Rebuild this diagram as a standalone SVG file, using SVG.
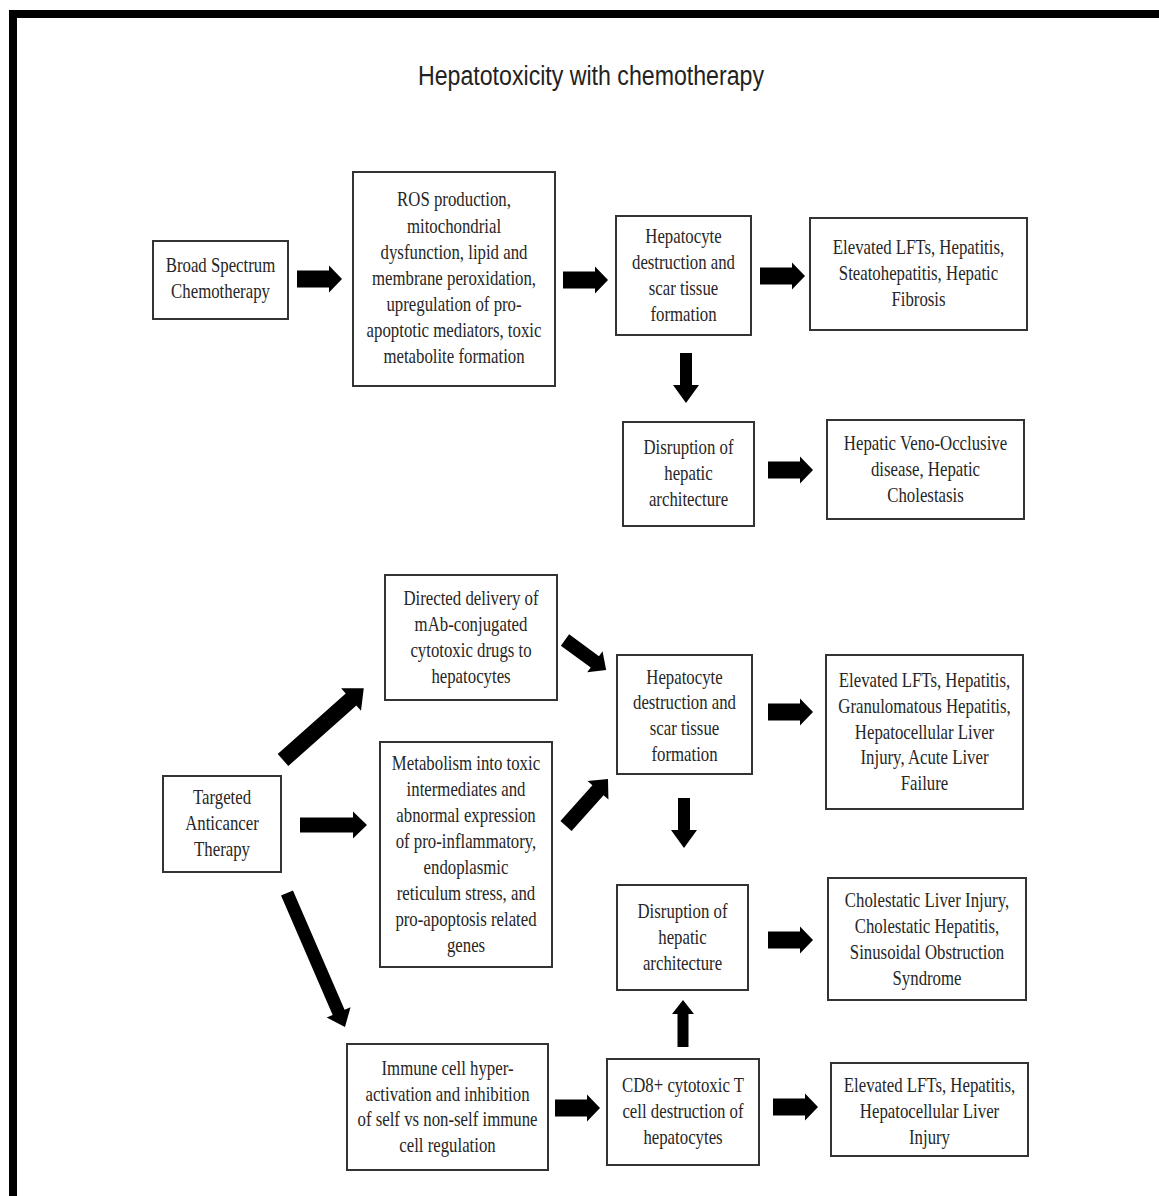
<svg xmlns="http://www.w3.org/2000/svg" xmlns:xlink="http://www.w3.org/1999/xlink" width="1159" height="1196" viewBox="0 0 1159 1196">
<style>
.box{fill:#fff;stroke:#333;stroke-width:2}
.t{font-family:"Liberation Serif","Times New Roman",serif;font-size:20px;fill:#262626;text-anchor:middle}
.title{font-family:"Liberation Sans",Arial,sans-serif;font-size:27px;fill:#222;text-anchor:middle}
.arr{fill:#000}
</style>
<defs>
<path id="ah" d="M0,-8.5 H32 V-13.5 L45,0 L32,13.5 V8.5 H0 Z"/>
<path id="av" d="M0,-6 H32 V-13 L50,0 L32,13 V6 H0 Z"/>
</defs>
<rect x="0" y="0" width="1159" height="1196" fill="#fff"/>
<rect x="9" y="10" width="1150" height="8" fill="#000"/>
<rect x="9" y="10" width="8" height="1186" fill="#000"/>
<text class="title" x="591" y="85" textLength="346" lengthAdjust="spacingAndGlyphs">Hepatotoxicity with chemotherapy</text>

<g id="connectors" class="arr">
<use xlink:href="#ah" transform="translate(297,279)"/>
<use xlink:href="#ah" transform="translate(563,280)"/>
<use xlink:href="#ah" transform="translate(760,276)"/>
<use xlink:href="#ah" transform="translate(768,470)"/>
<use xlink:href="#av" transform="translate(686,353) rotate(90)"/>
<path d="M0,-8 H91 V-15 L108,0 L91,15 V8 H0 Z" transform="translate(283,760) rotate(-41.6)"/>
<path d="M0,-7.5 H53 V-13.5 L67,0 L53,13.5 V7.5 H0 Z" transform="translate(300,825)"/>
<path d="M0,-6.5 H130 V-13 L146,0 L130,13 V6.5 H0 Z" transform="translate(287,893) rotate(66.6)"/>
<path d="M0,-7 H37 V-13 L51,0 L37,13 V7 H0 Z" transform="translate(565,640) rotate(36.2)"/>
<path d="M0,-7.5 H48 V-14 L63,0 L48,14 V7.5 H0 Z" transform="translate(566,826) rotate(-48.2)"/>
<use xlink:href="#ah" transform="translate(768,712)"/>
<use xlink:href="#av" transform="translate(684,798) rotate(90)"/>
<use xlink:href="#ah" transform="translate(768,940)"/>
<use xlink:href="#ah" transform="translate(555,1108)"/>
<path d="M0,-5.5 H33 V-11 L47,0 L33,11 V5.5 H0 Z" transform="translate(683,1047) rotate(-90)"/>
<use xlink:href="#ah" transform="translate(773,1107)"/>
</g>

<g id="n1"><rect class="box" x="153" y="241" width="135" height="78"/>
<g transform="translate(220.5,0) scale(0.84,1)"><text class="t" x="0" y="272">Broad Spectrum</text><text class="t" x="0" y="298">Chemotherapy</text></g></g>

<g id="n2"><rect class="box" x="353" y="172" width="202" height="214"/>
<g transform="translate(454,0) scale(0.84,1)"><text class="t" x="0" y="206">ROS production,</text><text class="t" x="0" y="233">mitochondrial</text><text class="t" x="0" y="259">dysfunction, lipid and</text><text class="t" x="0" y="285">membrane peroxidation,</text><text class="t" x="0" y="311">upregulation of pro-</text><text class="t" x="0" y="337">apoptotic mediators, toxic</text><text class="t" x="0" y="363">metabolite formation</text></g></g>

<g id="n3"><rect class="box" x="616" y="216" width="135" height="119"/>
<g transform="translate(683.5,0) scale(0.84,1)"><text class="t" x="0" y="243">Hepatocyte</text><text class="t" x="0" y="269">destruction and</text><text class="t" x="0" y="295">scar tissue</text><text class="t" x="0" y="321">formation</text></g></g>

<g id="n4"><rect class="box" x="810" y="218" width="217" height="112"/>
<g transform="translate(918.5,0) scale(0.84,1)"><text class="t" x="0" y="254">Elevated LFTs, Hepatitis,</text><text class="t" x="0" y="280">Steatohepatitis, Hepatic</text><text class="t" x="0" y="306">Fibrosis</text></g></g>

<g id="n5"><rect class="box" x="623" y="422" width="131" height="104"/>
<g transform="translate(688.5,0) scale(0.84,1)"><text class="t" x="0" y="454">Disruption of</text><text class="t" x="0" y="480">hepatic</text><text class="t" x="0" y="506">architecture</text></g></g>

<g id="n6"><rect class="box" x="827" y="420" width="197" height="99"/>
<g transform="translate(925.5,0) scale(0.84,1)"><text class="t" x="0" y="450">Hepatic Veno-Occlusive</text><text class="t" x="0" y="476">disease, Hepatic</text><text class="t" x="0" y="502">Cholestasis</text></g></g>

<g id="n7"><rect class="box" x="163" y="776" width="118" height="96"/>
<g transform="translate(222,0) scale(0.84,1)"><text class="t" x="0" y="804">Targeted</text><text class="t" x="0" y="830">Anticancer</text><text class="t" x="0" y="856">Therapy</text></g></g>

<g id="n8"><rect class="box" x="385" y="575" width="172" height="125"/>
<g transform="translate(471,0) scale(0.84,1)"><text class="t" x="0" y="605">Directed delivery of</text><text class="t" x="0" y="631">mAb-conjugated</text><text class="t" x="0" y="657">cytotoxic drugs to</text><text class="t" x="0" y="683">hepatocytes</text></g></g>

<g id="n9"><rect class="box" x="380" y="742" width="172" height="225"/>
<g transform="translate(466,0) scale(0.84,1)"><text class="t" x="0" y="770">Metabolism into toxic</text><text class="t" x="0" y="796">intermediates and</text><text class="t" x="0" y="822">abnormal expression</text><text class="t" x="0" y="848">of pro-inflammatory,</text><text class="t" x="0" y="874">endoplasmic</text><text class="t" x="0" y="900">reticulum stress, and</text><text class="t" x="0" y="926">pro-apoptosis related</text><text class="t" x="0" y="952">genes</text></g></g>

<g id="n10"><rect class="box" x="617" y="655" width="135" height="119"/>
<g transform="translate(684.5,0) scale(0.84,1)"><text class="t" x="0" y="684">Hepatocyte</text><text class="t" x="0" y="709">destruction and</text><text class="t" x="0" y="735">scar tissue</text><text class="t" x="0" y="761">formation</text></g></g>

<g id="n11"><rect class="box" x="826" y="655" width="197" height="154"/>
<g transform="translate(924.5,0) scale(0.84,1)"><text class="t" x="0" y="687">Elevated LFTs, Hepatitis,</text><text class="t" x="0" y="713">Granulomatous Hepatitis,</text><text class="t" x="0" y="739">Hepatocellular Liver</text><text class="t" x="0" y="764">Injury, Acute Liver</text><text class="t" x="0" y="790">Failure</text></g></g>

<g id="n12"><rect class="box" x="617" y="885" width="131" height="105"/>
<g transform="translate(682.5,0) scale(0.84,1)"><text class="t" x="0" y="918">Disruption of</text><text class="t" x="0" y="944">hepatic</text><text class="t" x="0" y="970">architecture</text></g></g>

<g id="n13"><rect class="box" x="828" y="878" width="198" height="122"/>
<g transform="translate(927,0) scale(0.84,1)"><text class="t" x="0" y="907">Cholestatic Liver Injury,</text><text class="t" x="0" y="933">Cholestatic Hepatitis,</text><text class="t" x="0" y="959">Sinusoidal Obstruction</text><text class="t" x="0" y="985">Syndrome</text></g></g>

<g id="n14"><rect class="box" x="347" y="1044" width="201" height="126"/>
<g transform="translate(447.5,0) scale(0.84,1)"><text class="t" x="0" y="1075">Immune cell hyper-</text><text class="t" x="0" y="1101">activation and inhibition</text><text class="t" x="0" y="1126">of self vs non-self immune</text><text class="t" x="0" y="1152">cell regulation</text></g></g>

<g id="n15"><rect class="box" x="607" y="1059" width="152" height="106"/>
<g transform="translate(683,0) scale(0.84,1)"><text class="t" x="0" y="1092">CD8+ cytotoxic T</text><text class="t" x="0" y="1118">cell destruction of</text><text class="t" x="0" y="1144">hepatocytes</text></g></g>

<g id="n16"><rect class="box" x="831" y="1063" width="197" height="93"/>
<g transform="translate(929.5,0) scale(0.84,1)"><text class="t" x="0" y="1092">Elevated LFTs, Hepatitis,</text><text class="t" x="0" y="1118">Hepatocellular Liver</text><text class="t" x="0" y="1144">Injury</text></g></g>
</svg>
